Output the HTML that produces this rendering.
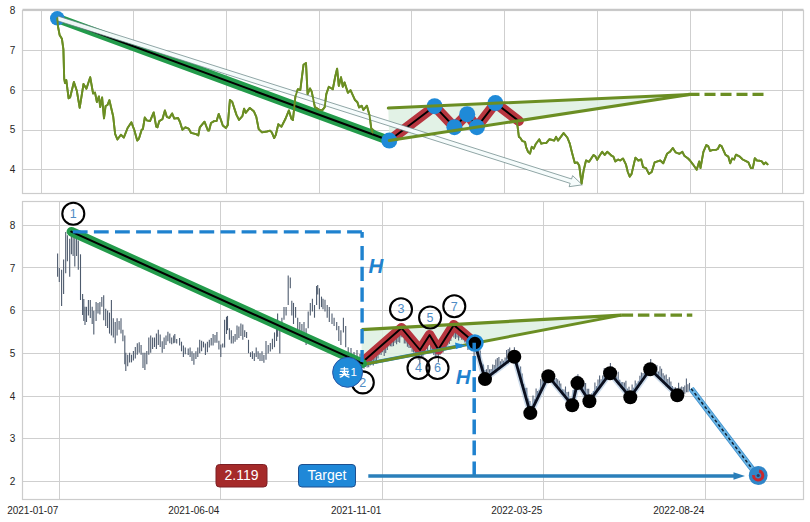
<!DOCTYPE html>
<html><head><meta charset="utf-8"><style>
html,body{margin:0;padding:0;background:#fff;overflow:hidden;}
svg{display:block;font-family:"Liberation Sans",sans-serif;}
</style></head><body>
<svg width="810" height="522" viewBox="0 0 810 522">
<rect width="810" height="522" fill="#ffffff"/>
<line x1="41.50" y1="10.50" x2="41.50" y2="193.50" stroke="#cfcfcf" stroke-width="1" />
<line x1="133.50" y1="10.50" x2="133.50" y2="193.50" stroke="#cfcfcf" stroke-width="1" />
<line x1="226.50" y1="10.50" x2="226.50" y2="193.50" stroke="#cfcfcf" stroke-width="1" />
<line x1="319.50" y1="10.50" x2="319.50" y2="193.50" stroke="#cfcfcf" stroke-width="1" />
<line x1="411.50" y1="10.50" x2="411.50" y2="193.50" stroke="#cfcfcf" stroke-width="1" />
<line x1="504.50" y1="10.50" x2="504.50" y2="193.50" stroke="#cfcfcf" stroke-width="1" />
<line x1="597.50" y1="10.50" x2="597.50" y2="193.50" stroke="#cfcfcf" stroke-width="1" />
<line x1="690.50" y1="10.50" x2="690.50" y2="193.50" stroke="#cfcfcf" stroke-width="1" />
<line x1="782.50" y1="10.50" x2="782.50" y2="193.50" stroke="#cfcfcf" stroke-width="1" />
<line x1="22.50" y1="10.50" x2="803.50" y2="10.50" stroke="#cfcfcf" stroke-width="1" />
<line x1="22.50" y1="50.50" x2="803.50" y2="50.50" stroke="#cfcfcf" stroke-width="1" />
<line x1="22.50" y1="90.50" x2="803.50" y2="90.50" stroke="#cfcfcf" stroke-width="1" />
<line x1="22.50" y1="130.50" x2="803.50" y2="130.50" stroke="#cfcfcf" stroke-width="1" />
<line x1="22.50" y1="169.50" x2="803.50" y2="169.50" stroke="#cfcfcf" stroke-width="1" />
<rect x="22.5" y="10.5" width="781.0" height="183.0" fill="none" stroke="#cccccc" stroke-width="1.2"/>
<line x1="22.50" y1="9.60" x2="803.50" y2="9.60" stroke="#c6c6c6" stroke-width="1.6" />
<text x="15.3" y="173.10" text-anchor="end" font-size="10" fill="#262626">4</text>
<text x="15.3" y="133.30" text-anchor="end" font-size="10" fill="#262626">5</text>
<text x="15.3" y="93.50" text-anchor="end" font-size="10" fill="#262626">6</text>
<text x="15.3" y="53.70" text-anchor="end" font-size="10" fill="#262626">7</text>
<text x="15.3" y="13.90" text-anchor="end" font-size="10" fill="#262626">8</text>
<line x1="59.50" y1="201.50" x2="59.50" y2="499.50" stroke="#cfcfcf" stroke-width="1" />
<line x1="220.50" y1="201.50" x2="220.50" y2="499.50" stroke="#cfcfcf" stroke-width="1" />
<line x1="382.50" y1="201.50" x2="382.50" y2="499.50" stroke="#cfcfcf" stroke-width="1" />
<line x1="543.50" y1="201.50" x2="543.50" y2="499.50" stroke="#cfcfcf" stroke-width="1" />
<line x1="705.50" y1="201.50" x2="705.50" y2="499.50" stroke="#cfcfcf" stroke-width="1" />
<line x1="22.50" y1="225.50" x2="803.50" y2="225.50" stroke="#cfcfcf" stroke-width="1" />
<line x1="22.50" y1="267.50" x2="803.50" y2="267.50" stroke="#cfcfcf" stroke-width="1" />
<line x1="22.50" y1="310.50" x2="803.50" y2="310.50" stroke="#cfcfcf" stroke-width="1" />
<line x1="22.50" y1="353.50" x2="803.50" y2="353.50" stroke="#cfcfcf" stroke-width="1" />
<line x1="22.50" y1="396.50" x2="803.50" y2="396.50" stroke="#cfcfcf" stroke-width="1" />
<line x1="22.50" y1="438.50" x2="803.50" y2="438.50" stroke="#cfcfcf" stroke-width="1" />
<line x1="22.50" y1="481.50" x2="803.50" y2="481.50" stroke="#cfcfcf" stroke-width="1" />
<rect x="22.5" y="201.5" width="781.0" height="298.0" fill="none" stroke="#cccccc" stroke-width="1.2"/>
<text x="15.3" y="485.02" text-anchor="end" font-size="10" fill="#262626">2</text>
<text x="15.3" y="442.35" text-anchor="end" font-size="10" fill="#262626">3</text>
<text x="15.3" y="399.68" text-anchor="end" font-size="10" fill="#262626">4</text>
<text x="15.3" y="357.01" text-anchor="end" font-size="10" fill="#262626">5</text>
<text x="15.3" y="314.34" text-anchor="end" font-size="10" fill="#262626">6</text>
<text x="15.3" y="271.67" text-anchor="end" font-size="10" fill="#262626">7</text>
<text x="15.3" y="229.00" text-anchor="end" font-size="10" fill="#262626">8</text>
<text x="58.30" y="514" text-anchor="end" font-size="10" fill="#262626">2021-01-07</text>
<text x="219.30" y="514" text-anchor="end" font-size="10" fill="#262626">2021-06-04</text>
<text x="381.30" y="514" text-anchor="end" font-size="10" fill="#262626">2021-11-01</text>
<text x="542.30" y="514" text-anchor="end" font-size="10" fill="#262626">2022-03-25</text>
<text x="704.30" y="514" text-anchor="end" font-size="10" fill="#262626">2022-08-24</text>
<polyline points="57.30,18.30 58.00,26.50 59.60,34.90 61.90,38.70 63.40,49.40 64.20,78.60 65.00,83.00 66.30,80.10 68.60,98.30 70.10,97.40 73.90,82.00 76.80,90.70 79.70,107.90 83.50,84.00 86.40,88.70 90.20,77.20 93.10,93.50 95.00,92.60 96.90,102.00 98.90,96.40 100.20,107.00 102.10,97.40 104.00,118.40 105.60,106.00 107.50,105.00 109.40,100.20 113.20,116.50 115.10,133.80 117.40,139.50 120.90,134.70 123.80,137.60 127.60,128.00 131.40,122.30 134.30,130.00 137.20,140.50 139.00,138.50 141.60,129.90 142.90,129.00 144.80,117.50 146.70,120.30 150.00,121.10 153.70,112.40 156.20,126.70 157.50,127.30 159.30,121.10 162.40,119.20 164.90,110.50 166.80,116.80 169.30,118.00 172.10,113.40 174.30,118.60 178.00,118.00 179.90,121.70 182.40,129.80 185.50,127.30 188.60,128.60 191.10,132.90 196.10,134.20 198.30,135.40 199.80,127.30 204.50,121.70 207.90,130.50 209.10,130.50 211.00,123.00 214.10,121.10 216.60,121.10 218.70,113.90 220.90,119.90 222.80,125.50 225.90,128.00 227.80,124.90 229.90,100.00 232.20,101.80 234.00,107.40 236.50,114.90 239.00,119.90 242.40,116.10 244.10,108.70 245.70,112.80 249.80,107.90 253.80,111.20 256.30,116.90 258.70,129.10 262.00,132.40 266.90,131.50 270.10,130.70 271.80,132.40 274.20,138.10 275.80,134.80 278.30,124.20 281.50,126.70 285.60,118.50 288.90,110.40 291.30,118.50 292.90,120.10 295.40,96.50 297.80,89.20 300.30,90.00 303.50,64.80 306.00,63.10 307.60,94.10 310.00,88.40 311.70,91.60 314.90,107.10 319.00,109.60 322.20,110.40 324.70,107.10 326.30,94.10 328.80,86.80 332.80,89.20 335.30,76.20 337.10,68.60 338.80,85.90 341.00,77.20 342.80,86.70 344.50,82.40 347.90,92.80 350.50,90.20 354.80,99.70 357.40,102.20 359.10,107.40 361.70,105.70 363.40,110.00 366.90,105.70 369.50,115.20 371.20,128.10 378.00,134.00 385.00,138.00 389.30,140.60 396.00,134.00 402.00,128.00 410.00,124.00 418.00,118.00 426.00,112.00 434.00,106.00 444.00,117.00 454.00,126.00 460.00,120.00 467.00,114.00 472.00,121.00 476.00,127.00 485.00,115.00 495.00,103.00 505.00,111.00 512.00,117.00 517.00,122.00 518.90,136.90 520.00,137.50 522.50,141.20 525.00,141.80 526.20,147.40 528.10,151.80 530.00,153.70 531.80,146.80 533.70,148.70 535.60,144.30 539.30,139.30 541.20,143.70 543.70,143.10 546.20,143.10 549.30,139.30 552.40,140.00 554.20,140.60 556.10,136.80 558.00,140.60 559.90,138.10 563.60,133.10 567.30,137.50 569.80,143.70 572.30,153.70 574.80,163.00 577.30,162.40 579.20,165.50 581.60,183.50 583.50,171.10 586.00,160.50 589.10,161.80 593.50,154.90 595.30,156.20 597.20,159.90 599.70,155.50 602.20,151.80 604.70,154.90 607.20,151.80 610.00,154.30 611.50,155.70 613.40,156.60 615.30,161.40 618.20,159.50 620.10,160.50 623.00,158.50 625.90,164.30 627.80,172.00 629.70,176.70 631.60,173.90 635.40,157.60 638.30,160.50 641.20,159.50 643.10,167.20 646.00,168.10 648.90,173.90 651.70,172.00 654.60,162.40 657.50,161.40 660.30,160.50 663.20,163.30 667.00,153.80 669.90,151.80 672.80,148.00 675.70,152.40 679.50,153.80 682.40,151.80 684.30,155.70 688.10,158.50 690.00,160.50 692.90,164.30 696.70,169.70 699.20,161.40 700.50,168.10 703.40,151.80 706.30,145.10 708.20,146.10 710.10,150.90 713.00,149.90 715.90,149.90 717.80,149.00 719.70,145.10 721.60,146.10 725.40,154.70 728.30,156.60 730.20,163.30 732.10,158.50 734.10,159.50 736.00,154.70 739.80,156.60 742.70,159.50 746.50,161.40 748.40,162.40 750.90,168.10 752.80,168.10 754.80,158.20 757.00,160.50 759.90,160.80 761.80,161.40 763.80,164.30 765.70,162.40 767.60,164.30" fill="none" stroke="#6b8e23" stroke-width="1.9" stroke-linejoin="round" stroke-linecap="round" />
<polygon points="388.3,108.1 690,94.4 389.3,140.6" fill="#ddf0e2" fill-opacity="0.85"/>
<line x1="57.30" y1="18.30" x2="389.30" y2="140.60" stroke="#239b4b" stroke-width="9.4" stroke-linecap="round"/>
<line x1="57.30" y1="18.30" x2="389.30" y2="140.60" stroke="#000" stroke-width="2.1" stroke-linecap="round"/>
<circle cx="57.3" cy="18.3" r="7.3" fill="#1f8ad8"/>
<polyline points="389.30,140.60 434.60,106.20 454.40,127.20 467.20,114.20 476.90,127.20 495.40,103.10 518.80,121.00" fill="none" stroke="#b7363f" stroke-width="10.2" stroke-linejoin="round" stroke-linecap="round" />
<polyline points="389.30,140.60 434.60,106.20 454.40,127.20 467.20,114.20 476.90,127.20 495.40,103.10 518.80,121.00" fill="none" stroke="#000" stroke-width="1.9" stroke-linejoin="round" stroke-linecap="round" />
<polygon points="56.90,20.59 570.17,183.36 569.11,186.70 582.30,184.80 572.61,175.64 571.56,178.98 58.30,16.21" fill="#f6fcfc" fill-opacity="0.97" stroke="#62807f" stroke-width="0.7" stroke-linejoin="miter"/>
<polyline points="57.30,18.30 58.00,26.50 59.60,34.90 61.90,38.70 63.40,49.40 64.20,78.60 65.00,83.00 66.30,80.10 68.60,98.30 70.10,97.40 73.90,82.00 76.80,90.70 79.70,107.90 83.50,84.00 86.40,88.70 90.20,77.20 93.10,93.50 95.00,92.60 96.90,102.00 98.90,96.40 100.20,107.00 102.10,97.40 104.00,118.40 105.60,106.00 107.50,105.00 109.40,100.20 113.20,116.50 115.10,133.80 117.40,139.50 120.90,134.70 123.80,137.60 127.60,128.00 131.40,122.30 134.30,130.00 137.20,140.50 139.00,138.50 141.60,129.90 142.90,129.00 144.80,117.50 146.70,120.30 150.00,121.10 153.70,112.40 156.20,126.70 157.50,127.30 159.30,121.10 162.40,119.20 164.90,110.50 166.80,116.80 169.30,118.00 172.10,113.40 174.30,118.60 178.00,118.00 179.90,121.70 182.40,129.80 185.50,127.30 188.60,128.60 191.10,132.90 196.10,134.20 198.30,135.40 199.80,127.30 204.50,121.70 207.90,130.50 209.10,130.50 211.00,123.00 214.10,121.10 216.60,121.10 218.70,113.90 220.90,119.90 222.80,125.50 225.90,128.00 227.80,124.90 229.90,100.00 232.20,101.80 234.00,107.40 236.50,114.90 239.00,119.90 242.40,116.10 244.10,108.70 245.70,112.80 249.80,107.90 253.80,111.20 256.30,116.90 258.70,129.10 262.00,132.40 266.90,131.50 270.10,130.70 271.80,132.40 274.20,138.10 275.80,134.80 278.30,124.20 281.50,126.70 285.60,118.50 288.90,110.40 291.30,118.50 292.90,120.10 295.40,96.50 297.80,89.20 300.30,90.00 303.50,64.80 306.00,63.10 307.60,94.10 310.00,88.40 311.70,91.60 314.90,107.10 319.00,109.60 322.20,110.40 324.70,107.10 326.30,94.10 328.80,86.80 332.80,89.20 335.30,76.20 337.10,68.60 338.80,85.90 341.00,77.20 342.80,86.70 344.50,82.40 347.90,92.80 350.50,90.20 354.80,99.70 357.40,102.20 359.10,107.40 361.70,105.70 363.40,110.00 366.90,105.70 369.50,115.20 371.20,128.10 372.60,132.50" fill="none" stroke="#6b8e23" stroke-width="1.9" stroke-linejoin="round" stroke-linecap="round" />
<polyline points="517.00,122.00 518.90,136.90 520.00,137.50 522.50,141.20 525.00,141.80 526.20,147.40 528.10,151.80 530.00,153.70 531.80,146.80 533.70,148.70 535.60,144.30 539.30,139.30 541.20,143.70 543.70,143.10 546.20,143.10 549.30,139.30 552.40,140.00 554.20,140.60 556.10,136.80 558.00,140.60 559.90,138.10 563.60,133.10 567.30,137.50 569.80,143.70 572.30,153.70 574.80,163.00 577.30,162.40 579.20,165.50 581.60,183.50 583.50,171.10 586.00,160.50 589.10,161.80 593.50,154.90 595.30,156.20 597.20,159.90 599.70,155.50 602.20,151.80 604.70,154.90 607.20,151.80 610.00,154.30 611.50,155.70 613.40,156.60 615.30,161.40 618.20,159.50 620.10,160.50 623.00,158.50 625.90,164.30 627.80,172.00 629.70,176.70 631.60,173.90 635.40,157.60 638.30,160.50 641.20,159.50 643.10,167.20 646.00,168.10 648.90,173.90 651.70,172.00 654.60,162.40 657.50,161.40 660.30,160.50 663.20,163.30 667.00,153.80 669.90,151.80 672.80,148.00 675.70,152.40 679.50,153.80 682.40,151.80 684.30,155.70 688.10,158.50 690.00,160.50 692.90,164.30 696.70,169.70 699.20,161.40 700.50,168.10 703.40,151.80 706.30,145.10 708.20,146.10 710.10,150.90 713.00,149.90 715.90,149.90 717.80,149.00 719.70,145.10 721.60,146.10 725.40,154.70 728.30,156.60 730.20,163.30 732.10,158.50 734.10,159.50 736.00,154.70 739.80,156.60 742.70,159.50 746.50,161.40 748.40,162.40 750.90,168.10 752.80,168.10 754.80,158.20 757.00,160.50 759.90,160.80 761.80,161.40 763.80,164.30 765.70,162.40 767.60,164.30" fill="none" stroke="#6b8e23" stroke-width="1.9" stroke-linejoin="round" stroke-linecap="round" />
<circle cx="389.3" cy="140.6" r="8" fill="#1f8ad8"/>
<circle cx="434.6" cy="106.2" r="8" fill="#1f8ad8"/>
<circle cx="454.4" cy="127.2" r="8" fill="#1f8ad8"/>
<circle cx="467.2" cy="114.2" r="8" fill="#1f8ad8"/>
<circle cx="476.9" cy="127.2" r="8" fill="#1f8ad8"/>
<circle cx="495.4" cy="103.1" r="8" fill="#1f8ad8"/>
<polyline points="388.30,108.10 690.00,94.40" fill="none" stroke="#6b8e23" stroke-width="3" stroke-linejoin="round" stroke-linecap="round" stroke-linecap="butt"/>
<polyline points="389.30,140.60 690.00,94.40" fill="none" stroke="#6b8e23" stroke-width="3" stroke-linejoin="round" stroke-linecap="round" stroke-linecap="butt"/>
<line x1="688.50" y1="94.40" x2="763.50" y2="94.40" stroke="#6b8e23" stroke-width="3.2" stroke-dasharray="11 5"/>
<g stroke="#4e5b6e" stroke-width="1.1">
<line x1="57.6" y1="253.4" x2="57.6" y2="276.7"/>
<line x1="59.3" y1="268.0" x2="59.3" y2="282.0"/>
<line x1="61.6" y1="269.8" x2="61.6" y2="306.0"/>
<line x1="63.6" y1="259.5" x2="63.6" y2="294.0"/>
<line x1="65.7" y1="231.9" x2="65.7" y2="273.3"/>
<line x1="67.4" y1="235.3" x2="67.4" y2="261.2"/>
<line x1="69.7" y1="238.8" x2="69.7" y2="276.7"/>
<line x1="71.4" y1="233.6" x2="71.4" y2="254.3"/>
<line x1="73.1" y1="231.9" x2="73.1" y2="256.0"/>
<line x1="74.8" y1="235.3" x2="74.8" y2="266.4"/>
<line x1="76.6" y1="237.0" x2="76.6" y2="256.0"/>
<line x1="78.3" y1="240.5" x2="78.3" y2="269.8"/>
<line x1="80.5" y1="254.3" x2="80.5" y2="300.0"/>
<line x1="82.6" y1="294.0" x2="82.6" y2="315.0"/>
<line x1="83.8" y1="299.0" x2="83.8" y2="321.0"/>
<line x1="85.0" y1="306.8" x2="85.0" y2="325.0"/>
<line x1="86.5" y1="306.8" x2="86.5" y2="322.0"/>
<line x1="88.4" y1="300.0" x2="88.4" y2="315.4"/>
<line x1="90.3" y1="300.0" x2="90.3" y2="318.0"/>
<line x1="92.2" y1="306.8" x2="92.2" y2="324.0"/>
<line x1="93.8" y1="310.7" x2="93.8" y2="334.6"/>
<line x1="96.1" y1="302.0" x2="96.1" y2="321.0"/>
<line x1="98.0" y1="303.0" x2="98.0" y2="313.5"/>
<line x1="99.9" y1="302.0" x2="99.9" y2="314.5"/>
<line x1="101.8" y1="297.0" x2="101.8" y2="306.8"/>
<line x1="103.7" y1="295.3" x2="103.7" y2="320.2"/>
<line x1="105.7" y1="308.7" x2="105.7" y2="326.0"/>
<line x1="107.6" y1="310.6" x2="107.6" y2="328.0"/>
<line x1="109.5" y1="312.6" x2="109.5" y2="333.6"/>
<line x1="111.4" y1="300.0" x2="111.4" y2="335.6"/>
<line x1="113.3" y1="318.3" x2="113.3" y2="337.5"/>
<line x1="115.2" y1="322.0" x2="115.2" y2="343.2"/>
<line x1="117.1" y1="318.3" x2="117.1" y2="335.6"/>
<line x1="119.1" y1="321.0" x2="119.1" y2="329.8"/>
<line x1="121.0" y1="318.3" x2="121.0" y2="333.6"/>
<line x1="122.9" y1="329.8" x2="122.9" y2="341.3"/>
<line x1="124.8" y1="335.6" x2="124.8" y2="364.3"/>
<line x1="125.8" y1="352.8" x2="125.8" y2="371.0"/>
<line x1="127.7" y1="354.7" x2="127.7" y2="366.2"/>
<line x1="129.6" y1="352.8" x2="129.6" y2="362.4"/>
<line x1="131.5" y1="354.7" x2="131.5" y2="362.4"/>
<line x1="133.4" y1="350.9" x2="133.4" y2="360.5"/>
<line x1="135.3" y1="347.0" x2="135.3" y2="358.5"/>
<line x1="137.3" y1="343.2" x2="137.3" y2="354.7"/>
<line x1="139.2" y1="342.3" x2="139.2" y2="352.8"/>
<line x1="141.1" y1="345.1" x2="141.1" y2="354.7"/>
<line x1="143.0" y1="352.8" x2="143.0" y2="368.1"/>
<line x1="144.9" y1="352.8" x2="144.9" y2="370.0"/>
<line x1="146.8" y1="350.9" x2="146.8" y2="364.3"/>
<line x1="148.8" y1="337.5" x2="148.8" y2="354.7"/>
<line x1="150.7" y1="335.6" x2="150.7" y2="352.8"/>
<line x1="152.6" y1="337.5" x2="152.6" y2="349.0"/>
<line x1="154.5" y1="337.5" x2="154.5" y2="347.0"/>
<line x1="156.4" y1="333.6" x2="156.4" y2="349.0"/>
<line x1="158.3" y1="329.8" x2="158.3" y2="345.1"/>
<line x1="160.2" y1="334.6" x2="160.2" y2="347.0"/>
<line x1="162.2" y1="341.3" x2="162.2" y2="352.8"/>
<line x1="164.1" y1="337.5" x2="164.1" y2="349.0"/>
<line x1="166.0" y1="335.6" x2="166.0" y2="345.1"/>
<line x1="167.9" y1="331.7" x2="167.9" y2="341.3"/>
<line x1="169.8" y1="333.6" x2="169.8" y2="343.2"/>
<line x1="171.7" y1="337.5" x2="171.7" y2="344.2"/>
<line x1="173.7" y1="335.6" x2="173.7" y2="343.2"/>
<line x1="174.8" y1="334.0" x2="174.8" y2="342.7"/>
<line x1="176.7" y1="338.9" x2="176.7" y2="343.6"/>
<line x1="179.6" y1="337.9" x2="179.6" y2="345.6"/>
<line x1="181.5" y1="341.7" x2="181.5" y2="351.3"/>
<line x1="183.4" y1="345.6" x2="183.4" y2="357.0"/>
<line x1="185.3" y1="347.5" x2="185.3" y2="354.2"/>
<line x1="188.2" y1="348.4" x2="188.2" y2="355.1"/>
<line x1="190.1" y1="347.5" x2="190.1" y2="357.0"/>
<line x1="192.0" y1="351.3" x2="192.0" y2="360.9"/>
<line x1="193.9" y1="353.2" x2="193.9" y2="364.7"/>
<line x1="195.9" y1="351.3" x2="195.9" y2="359.0"/>
<line x1="197.8" y1="347.5" x2="197.8" y2="357.0"/>
<line x1="199.7" y1="339.8" x2="199.7" y2="353.2"/>
<line x1="201.6" y1="340.8" x2="201.6" y2="351.3"/>
<line x1="203.5" y1="341.7" x2="203.5" y2="347.5"/>
<line x1="205.4" y1="343.6" x2="205.4" y2="355.1"/>
<line x1="207.4" y1="341.7" x2="207.4" y2="352.3"/>
<line x1="209.3" y1="339.8" x2="209.3" y2="347.5"/>
<line x1="211.2" y1="337.9" x2="211.2" y2="345.6"/>
<line x1="213.1" y1="334.0" x2="213.1" y2="345.6"/>
<line x1="215.0" y1="335.0" x2="215.0" y2="342.7"/>
<line x1="216.9" y1="332.1" x2="216.9" y2="342.7"/>
<line x1="218.9" y1="340.8" x2="218.9" y2="349.4"/>
<line x1="220.8" y1="344.6" x2="220.8" y2="357.0"/>
<line x1="222.7" y1="343.6" x2="222.7" y2="347.5"/>
<line x1="224.6" y1="319.7" x2="224.6" y2="347.5"/>
<line x1="226.5" y1="316.8" x2="226.5" y2="334.0"/>
<line x1="227.5" y1="315.9" x2="227.5" y2="330.2"/>
<line x1="229.4" y1="328.3" x2="229.4" y2="339.8"/>
<line x1="231.3" y1="330.2" x2="231.3" y2="343.6"/>
<line x1="233.2" y1="336.0" x2="233.2" y2="343.6"/>
<line x1="235.1" y1="334.0" x2="235.1" y2="341.7"/>
<line x1="237.0" y1="325.4" x2="237.0" y2="339.8"/>
<line x1="238.9" y1="326.4" x2="238.9" y2="337.9"/>
<line x1="240.9" y1="323.5" x2="240.9" y2="336.0"/>
<line x1="242.8" y1="324.5" x2="242.8" y2="339.8"/>
<line x1="244.7" y1="330.2" x2="244.7" y2="336.9"/>
<line x1="246.6" y1="332.1" x2="246.6" y2="337.9"/>
<line x1="248.5" y1="339.8" x2="248.5" y2="353.2"/>
<line x1="250.5" y1="352.3" x2="250.5" y2="357.0"/>
<line x1="252.4" y1="351.3" x2="252.4" y2="359.0"/>
<line x1="254.3" y1="353.2" x2="254.3" y2="360.9"/>
<line x1="256.2" y1="347.5" x2="256.2" y2="357.0"/>
<line x1="258.1" y1="351.3" x2="258.1" y2="359.0"/>
<line x1="260.0" y1="353.2" x2="260.0" y2="360.9"/>
<line x1="262.0" y1="351.3" x2="262.0" y2="360.9"/>
<line x1="263.9" y1="355.1" x2="263.9" y2="362.8"/>
<line x1="266.0" y1="340.9" x2="266.0" y2="359.8"/>
<line x1="268.2" y1="345.0" x2="268.2" y2="353.5"/>
<line x1="270.3" y1="343.0" x2="270.3" y2="351.4"/>
<line x1="272.4" y1="338.8" x2="272.4" y2="349.3"/>
<line x1="274.5" y1="332.4" x2="274.5" y2="347.2"/>
<line x1="276.6" y1="319.8" x2="276.6" y2="340.9"/>
<line x1="277.6" y1="313.5" x2="277.6" y2="336.7"/>
<line x1="279.8" y1="328.2" x2="279.8" y2="353.5"/>
<line x1="281.9" y1="317.7" x2="281.9" y2="330.3"/>
<line x1="284.0" y1="307.1" x2="284.0" y2="319.8"/>
<line x1="286.1" y1="307.1" x2="286.1" y2="315.6"/>
<line x1="288.2" y1="275.5" x2="288.2" y2="305.0"/>
<line x1="290.3" y1="277.6" x2="290.3" y2="288.2"/>
<line x1="291.8" y1="300.8" x2="291.8" y2="315.6"/>
<line x1="293.5" y1="302.9" x2="293.5" y2="324.0"/>
<line x1="295.6" y1="307.1" x2="295.6" y2="317.7"/>
<line x1="297.7" y1="317.7" x2="297.7" y2="330.3"/>
<line x1="299.8" y1="321.9" x2="299.8" y2="334.5"/>
<line x1="301.9" y1="324.0" x2="301.9" y2="336.7"/>
<line x1="304.0" y1="321.9" x2="304.0" y2="332.4"/>
<line x1="306.1" y1="328.2" x2="306.1" y2="345.1"/>
<line x1="308.2" y1="311.4" x2="308.2" y2="328.2"/>
<line x1="310.3" y1="302.9" x2="310.3" y2="315.6"/>
<line x1="312.4" y1="298.7" x2="312.4" y2="311.4"/>
<line x1="314.5" y1="305.0" x2="314.5" y2="317.7"/>
<line x1="316.6" y1="286.1" x2="316.6" y2="305.0"/>
<line x1="317.7" y1="285.0" x2="317.7" y2="294.5"/>
<line x1="319.4" y1="288.2" x2="319.4" y2="309.3"/>
<line x1="321.5" y1="296.6" x2="321.5" y2="307.1"/>
<line x1="323.0" y1="298.7" x2="323.0" y2="309.3"/>
<line x1="325.0" y1="299.8" x2="325.0" y2="311.4"/>
<line x1="327.2" y1="305.0" x2="327.2" y2="317.7"/>
<line x1="329.3" y1="307.1" x2="329.3" y2="321.9"/>
<line x1="332.0" y1="313.5" x2="332.0" y2="324.0"/>
<line x1="334.1" y1="317.7" x2="334.1" y2="326.1"/>
<line x1="336.7" y1="321.9" x2="336.7" y2="330.3"/>
<line x1="338.8" y1="326.1" x2="338.8" y2="340.9"/>
<line x1="340.9" y1="330.3" x2="340.9" y2="345.1"/>
<line x1="343.4" y1="317.7" x2="343.4" y2="332.4"/>
<line x1="345.7" y1="326.1" x2="345.7" y2="347.2"/>
<line x1="348.2" y1="347.2" x2="348.2" y2="353.5"/>
<line x1="351.0" y1="348.0" x2="351.0" y2="358.0"/>
<line x1="354.0" y1="352.0" x2="354.0" y2="362.0"/>
<line x1="357.0" y1="350.0" x2="357.0" y2="360.0"/>
<line x1="360.0" y1="354.0" x2="360.0" y2="364.0"/>
</g>
<polygon points="361.6,329.6 621.6,315.1 361.6,364.8" fill="#ddf0e2" fill-opacity="0.85"/>
<g stroke="#56647a" stroke-width="1.1">
<line x1="364.0" y1="360.7" x2="364.0" y2="368.8"/>
<line x1="365.6" y1="360.4" x2="365.6" y2="366.9"/>
<line x1="367.1" y1="358.7" x2="367.1" y2="367.6"/>
<line x1="368.7" y1="355.9" x2="368.7" y2="367.3"/>
<line x1="370.2" y1="354.5" x2="370.2" y2="365.4"/>
<line x1="371.8" y1="353.2" x2="371.8" y2="361.6"/>
<line x1="373.3" y1="352.9" x2="373.3" y2="365.4"/>
<line x1="374.9" y1="350.7" x2="374.9" y2="359.9"/>
<line x1="376.4" y1="350.8" x2="376.4" y2="363.6"/>
<line x1="378.0" y1="349.3" x2="378.0" y2="358.4"/>
<line x1="379.5" y1="349.2" x2="379.5" y2="354.6"/>
<line x1="381.1" y1="347.4" x2="381.1" y2="354.9"/>
<line x1="382.6" y1="344.0" x2="382.6" y2="352.3"/>
<line x1="384.2" y1="343.1" x2="384.2" y2="355.9"/>
<line x1="385.7" y1="341.4" x2="385.7" y2="352.9"/>
<line x1="387.3" y1="341.4" x2="387.3" y2="350.1"/>
<line x1="388.8" y1="339.7" x2="388.8" y2="346.5"/>
<line x1="390.4" y1="336.9" x2="390.4" y2="346.2"/>
<line x1="391.9" y1="337.4" x2="391.9" y2="346.4"/>
<line x1="393.5" y1="335.0" x2="393.5" y2="346.1"/>
<line x1="395.0" y1="334.0" x2="395.0" y2="342.8"/>
<line x1="396.6" y1="333.7" x2="396.6" y2="344.2"/>
<line x1="398.1" y1="330.7" x2="398.1" y2="342.0"/>
<line x1="399.7" y1="330.2" x2="399.7" y2="342.7"/>
<line x1="401.2" y1="329.5" x2="401.2" y2="337.3"/>
<line x1="402.8" y1="331.4" x2="402.8" y2="337.3"/>
<line x1="404.3" y1="331.6" x2="404.3" y2="343.6"/>
<line x1="405.9" y1="332.6" x2="405.9" y2="343.6"/>
<line x1="407.4" y1="334.1" x2="407.4" y2="346.7"/>
<line x1="409.0" y1="338.2" x2="409.0" y2="347.9"/>
<line x1="410.5" y1="340.3" x2="410.5" y2="347.9"/>
<line x1="412.1" y1="341.6" x2="412.1" y2="351.7"/>
<line x1="413.6" y1="343.1" x2="413.6" y2="352.6"/>
<line x1="415.2" y1="345.8" x2="415.2" y2="357.8"/>
<line x1="416.7" y1="346.5" x2="416.7" y2="357.7"/>
<line x1="418.3" y1="347.1" x2="418.3" y2="359.8"/>
<line x1="419.8" y1="350.7" x2="419.8" y2="363.7"/>
<line x1="421.4" y1="349.4" x2="421.4" y2="356.9"/>
<line x1="422.9" y1="345.6" x2="422.9" y2="357.1"/>
<line x1="424.5" y1="342.1" x2="424.5" y2="353.3"/>
<line x1="426.0" y1="340.1" x2="426.0" y2="348.4"/>
<line x1="427.6" y1="337.4" x2="427.6" y2="350.6"/>
<line x1="429.1" y1="335.2" x2="429.1" y2="344.5"/>
<line x1="430.7" y1="336.9" x2="430.7" y2="349.8"/>
<line x1="432.2" y1="338.6" x2="432.2" y2="349.5"/>
<line x1="433.8" y1="342.6" x2="433.8" y2="355.1"/>
<line x1="435.3" y1="346.0" x2="435.3" y2="357.5"/>
<line x1="436.9" y1="346.9" x2="436.9" y2="357.0"/>
<line x1="438.4" y1="349.4" x2="438.4" y2="362.5"/>
<line x1="440.0" y1="348.8" x2="440.0" y2="354.9"/>
<line x1="441.5" y1="344.0" x2="441.5" y2="353.1"/>
<line x1="443.1" y1="341.7" x2="443.1" y2="352.4"/>
<line x1="444.6" y1="340.3" x2="444.6" y2="348.4"/>
<line x1="446.2" y1="336.1" x2="446.2" y2="347.0"/>
<line x1="447.7" y1="334.7" x2="447.7" y2="345.6"/>
<line x1="449.3" y1="334.1" x2="449.3" y2="344.0"/>
<line x1="450.8" y1="330.3" x2="450.8" y2="341.1"/>
<line x1="452.4" y1="328.3" x2="452.4" y2="334.7"/>
<line x1="453.9" y1="326.8" x2="453.9" y2="337.5"/>
<line x1="455.5" y1="328.0" x2="455.5" y2="339.0"/>
<line x1="457.0" y1="327.9" x2="457.0" y2="337.5"/>
<line x1="458.6" y1="328.3" x2="458.6" y2="340.5"/>
<line x1="460.1" y1="329.5" x2="460.1" y2="337.8"/>
<line x1="461.7" y1="331.3" x2="461.7" y2="339.8"/>
<line x1="463.2" y1="333.0" x2="463.2" y2="340.3"/>
<line x1="464.8" y1="333.3" x2="464.8" y2="342.4"/>
<line x1="466.3" y1="334.9" x2="466.3" y2="345.2"/>
<line x1="467.9" y1="336.0" x2="467.9" y2="350.0"/>
<line x1="469.4" y1="339.1" x2="469.4" y2="346.3"/>
<line x1="471.0" y1="339.3" x2="471.0" y2="349.0"/>
<line x1="472.5" y1="341.0" x2="472.5" y2="348.7"/>
<line x1="474.1" y1="343.7" x2="474.1" y2="356.1"/>
<line x1="475.6" y1="337.0" x2="475.6" y2="346.1"/>
<line x1="477.2" y1="346.0" x2="477.2" y2="351.0"/>
<line x1="478.7" y1="349.3" x2="478.7" y2="356.9"/>
<line x1="480.3" y1="350.5" x2="480.3" y2="362.3"/>
<line x1="481.8" y1="363.3" x2="481.8" y2="369.4"/>
<line x1="483.4" y1="364.4" x2="483.4" y2="373.4"/>
<line x1="484.9" y1="369.9" x2="484.9" y2="378.8"/>
<line x1="486.5" y1="369.2" x2="486.5" y2="379.9"/>
<line x1="488.0" y1="365.0" x2="488.0" y2="378.2"/>
<line x1="489.6" y1="369.3" x2="489.6" y2="376.4"/>
<line x1="491.1" y1="368.9" x2="491.1" y2="376.0"/>
<line x1="492.7" y1="364.5" x2="492.7" y2="374.8"/>
<line x1="494.2" y1="365.1" x2="494.2" y2="372.5"/>
<line x1="495.8" y1="359.6" x2="495.8" y2="372.9"/>
<line x1="497.3" y1="358.0" x2="497.3" y2="371.3"/>
<line x1="498.9" y1="357.1" x2="498.9" y2="370.0"/>
<line x1="500.4" y1="361.3" x2="500.4" y2="368.4"/>
<line x1="502.0" y1="358.9" x2="502.0" y2="366.2"/>
<line x1="503.5" y1="360.7" x2="503.5" y2="365.5"/>
<line x1="505.1" y1="357.4" x2="505.1" y2="365.2"/>
<line x1="506.6" y1="350.0" x2="506.6" y2="363.5"/>
<line x1="508.2" y1="349.0" x2="508.2" y2="363.4"/>
<line x1="509.7" y1="347.6" x2="509.7" y2="360.9"/>
<line x1="511.3" y1="353.0" x2="511.3" y2="359.5"/>
<line x1="512.8" y1="352.1" x2="512.8" y2="358.3"/>
<line x1="514.4" y1="347.3" x2="514.4" y2="358.7"/>
<line x1="515.9" y1="350.8" x2="515.9" y2="363.3"/>
<line x1="517.5" y1="357.9" x2="517.5" y2="369.4"/>
<line x1="519.0" y1="368.5" x2="519.0" y2="374.6"/>
<line x1="520.6" y1="366.5" x2="520.6" y2="380.3"/>
<line x1="522.1" y1="373.4" x2="522.1" y2="385.2"/>
<line x1="523.7" y1="384.1" x2="523.7" y2="391.2"/>
<line x1="525.2" y1="388.1" x2="525.2" y2="396.7"/>
<line x1="526.8" y1="387.8" x2="526.8" y2="401.4"/>
<line x1="528.3" y1="398.4" x2="528.3" y2="407.9"/>
<line x1="529.9" y1="401.0" x2="529.9" y2="411.9"/>
<line x1="531.4" y1="405.7" x2="531.4" y2="411.1"/>
<line x1="533.0" y1="395.5" x2="533.0" y2="409.3"/>
<line x1="534.5" y1="399.2" x2="534.5" y2="406.1"/>
<line x1="536.1" y1="388.5" x2="536.1" y2="402.6"/>
<line x1="537.6" y1="391.0" x2="537.6" y2="399.2"/>
<line x1="539.2" y1="389.8" x2="539.2" y2="395.0"/>
<line x1="540.7" y1="379.0" x2="540.7" y2="393.1"/>
<line x1="542.3" y1="379.9" x2="542.3" y2="390.5"/>
<line x1="543.8" y1="377.5" x2="543.8" y2="387.2"/>
<line x1="545.4" y1="370.8" x2="545.4" y2="382.7"/>
<line x1="546.9" y1="372.8" x2="546.9" y2="379.7"/>
<line x1="548.5" y1="370.2" x2="548.5" y2="377.6"/>
<line x1="550.0" y1="371.9" x2="550.0" y2="379.1"/>
<line x1="551.5" y1="375.0" x2="551.5" y2="382.0"/>
<line x1="553.1" y1="374.8" x2="553.1" y2="382.9"/>
<line x1="554.6" y1="374.7" x2="554.6" y2="385.7"/>
<line x1="556.2" y1="378.0" x2="556.2" y2="387.6"/>
<line x1="557.7" y1="379.2" x2="557.7" y2="388.7"/>
<line x1="559.3" y1="380.8" x2="559.3" y2="389.6"/>
<line x1="560.8" y1="383.5" x2="560.8" y2="391.8"/>
<line x1="562.4" y1="389.3" x2="562.4" y2="394.9"/>
<line x1="563.9" y1="389.6" x2="563.9" y2="396.1"/>
<line x1="565.5" y1="386.5" x2="565.5" y2="398.2"/>
<line x1="567.0" y1="392.0" x2="567.0" y2="400.0"/>
<line x1="568.6" y1="391.8" x2="568.6" y2="402.4"/>
<line x1="570.1" y1="397.8" x2="570.1" y2="403.8"/>
<line x1="571.7" y1="398.4" x2="571.7" y2="405.1"/>
<line x1="573.2" y1="389.9" x2="573.2" y2="401.8"/>
<line x1="574.8" y1="385.3" x2="574.8" y2="395.9"/>
<line x1="576.3" y1="375.7" x2="576.3" y2="388.8"/>
<line x1="577.9" y1="374.2" x2="577.9" y2="384.7"/>
<line x1="579.4" y1="377.5" x2="579.4" y2="387.5"/>
<line x1="581.0" y1="380.4" x2="581.0" y2="389.5"/>
<line x1="582.5" y1="382.5" x2="582.5" y2="392.7"/>
<line x1="584.1" y1="382.8" x2="584.1" y2="394.9"/>
<line x1="585.6" y1="383.0" x2="585.6" y2="396.0"/>
<line x1="587.2" y1="388.8" x2="587.2" y2="399.7"/>
<line x1="588.7" y1="388.7" x2="588.7" y2="400.5"/>
<line x1="590.3" y1="394.9" x2="590.3" y2="400.9"/>
<line x1="591.8" y1="393.2" x2="591.8" y2="398.4"/>
<line x1="593.4" y1="391.1" x2="593.4" y2="397.1"/>
<line x1="594.9" y1="382.6" x2="594.9" y2="395.5"/>
<line x1="596.5" y1="386.2" x2="596.5" y2="393.0"/>
<line x1="598.0" y1="379.6" x2="598.0" y2="389.8"/>
<line x1="599.6" y1="375.5" x2="599.6" y2="389.3"/>
<line x1="601.1" y1="379.3" x2="601.1" y2="387.2"/>
<line x1="602.7" y1="375.6" x2="602.7" y2="384.2"/>
<line x1="604.2" y1="368.2" x2="604.2" y2="382.8"/>
<line x1="605.8" y1="373.6" x2="605.8" y2="379.9"/>
<line x1="607.3" y1="368.3" x2="607.3" y2="377.6"/>
<line x1="608.9" y1="369.1" x2="608.9" y2="375.5"/>
<line x1="610.4" y1="363.1" x2="610.4" y2="373.7"/>
<line x1="612.0" y1="366.5" x2="612.0" y2="376.3"/>
<line x1="613.5" y1="373.2" x2="613.5" y2="378.0"/>
<line x1="615.1" y1="369.6" x2="615.1" y2="380.2"/>
<line x1="616.6" y1="376.4" x2="616.6" y2="383.0"/>
<line x1="618.2" y1="371.8" x2="618.2" y2="384.8"/>
<line x1="619.7" y1="379.8" x2="619.7" y2="385.2"/>
<line x1="621.3" y1="382.2" x2="621.3" y2="388.1"/>
<line x1="622.8" y1="382.0" x2="622.8" y2="388.7"/>
<line x1="624.4" y1="382.5" x2="624.4" y2="392.1"/>
<line x1="625.9" y1="380.7" x2="625.9" y2="392.6"/>
<line x1="627.5" y1="388.6" x2="627.5" y2="395.8"/>
<line x1="629.0" y1="386.7" x2="629.0" y2="397.2"/>
<line x1="630.6" y1="392.1" x2="630.6" y2="397.0"/>
<line x1="632.1" y1="384.5" x2="632.1" y2="395.5"/>
<line x1="633.7" y1="387.8" x2="633.7" y2="394.4"/>
<line x1="635.2" y1="380.6" x2="635.2" y2="391.9"/>
<line x1="636.8" y1="383.4" x2="636.8" y2="389.8"/>
<line x1="638.3" y1="381.3" x2="638.3" y2="387.7"/>
<line x1="639.9" y1="375.7" x2="639.9" y2="384.4"/>
<line x1="641.4" y1="372.6" x2="641.4" y2="383.4"/>
<line x1="643.0" y1="373.0" x2="643.0" y2="379.6"/>
<line x1="644.5" y1="368.4" x2="644.5" y2="377.7"/>
<line x1="646.1" y1="370.0" x2="646.1" y2="375.3"/>
<line x1="647.6" y1="368.3" x2="647.6" y2="373.2"/>
<line x1="649.2" y1="363.8" x2="649.2" y2="371.2"/>
<line x1="650.7" y1="358.9" x2="650.7" y2="370.3"/>
<line x1="652.3" y1="362.7" x2="652.3" y2="371.6"/>
<line x1="653.8" y1="365.6" x2="653.8" y2="372.8"/>
<line x1="655.4" y1="368.0" x2="655.4" y2="374.2"/>
<line x1="656.9" y1="365.1" x2="656.9" y2="376.8"/>
<line x1="658.5" y1="371.5" x2="658.5" y2="378.1"/>
<line x1="660.0" y1="366.3" x2="660.0" y2="378.9"/>
<line x1="661.6" y1="368.8" x2="661.6" y2="381.0"/>
<line x1="663.1" y1="373.2" x2="663.1" y2="383.3"/>
<line x1="664.7" y1="375.6" x2="664.7" y2="384.2"/>
<line x1="666.2" y1="374.5" x2="666.2" y2="386.6"/>
<line x1="667.8" y1="379.1" x2="667.8" y2="387.8"/>
<line x1="669.3" y1="377.3" x2="669.3" y2="388.9"/>
<line x1="670.9" y1="381.5" x2="670.9" y2="389.8"/>
<line x1="672.4" y1="386.1" x2="672.4" y2="390.9"/>
<line x1="674.0" y1="387.5" x2="674.0" y2="393.6"/>
<line x1="675.5" y1="387.3" x2="675.5" y2="393.9"/>
<line x1="677.1" y1="390.3" x2="677.1" y2="396.8"/>
<line x1="678.6" y1="382.8" x2="678.6" y2="396.0"/>
<line x1="680.2" y1="387.4" x2="680.2" y2="394.5"/>
<line x1="681.7" y1="386.6" x2="681.7" y2="394.2"/>
<line x1="683.3" y1="387.1" x2="683.3" y2="393.4"/>
<line x1="684.8" y1="385.5" x2="684.8" y2="393.8"/>
<line x1="686.4" y1="378.4" x2="686.4" y2="392.2"/>
<line x1="687.9" y1="384.2" x2="687.9" y2="392.3"/>
<line x1="689.5" y1="382.9" x2="689.5" y2="390.4"/>
</g>
<polyline points="362.60,362.00 401.50,328.00 420.00,350.00 429.60,335.00 438.30,349.50 453.80,325.00 475.00,343.00" fill="none" stroke="#b7363f" stroke-width="10" stroke-linejoin="round" stroke-linecap="round" />
<polyline points="362.60,362.00 401.50,328.00 420.00,350.00 429.60,335.00 438.30,349.50 453.80,325.00 475.00,343.00" fill="none" stroke="#000" stroke-width="1.9" stroke-linejoin="round" stroke-linecap="round" />
<line x1="361.60" y1="329.60" x2="621.60" y2="315.10" stroke="#6b8e23" stroke-width="3.2" />
<line x1="362.50" y1="364.60" x2="462.00" y2="345.60" stroke="#1f82cf" stroke-width="3.6" />
<line x1="361.60" y1="364.80" x2="621.60" y2="315.10" stroke="#6b8e23" stroke-width="3.0" />
<line x1="621.60" y1="315.10" x2="692.30" y2="315.10" stroke="#6b8e23" stroke-width="3.2" stroke-dasharray="11.5 4.8"/>
<line x1="71.30" y1="231.60" x2="362.20" y2="363.40" stroke="#239b4b" stroke-width="9.4" stroke-linecap="round"/>
<line x1="71.30" y1="231.60" x2="362.20" y2="363.40" stroke="#000" stroke-width="2.1" stroke-linecap="round"/>
<polyline points="72.8,231.9 362.1,231.9" fill="none" stroke="#1f82cf" stroke-width="3.4" stroke-dasharray="14.8 6.3"/>
<polyline points="362.1,231.9 362.1,362" fill="none" stroke="#1f82cf" stroke-width="3.4" stroke-dasharray="5.8 8.2 14.3 6.5 14.3 6.5 14.3 6.5 14.3 6.5 14.3 6.5 14.3 6.5"/>
<text x="368.6" y="272.7" font-size="20.5" font-weight="bold" font-style="italic" fill="#1f82cf">H</text>
<text x="455.8" y="383.6" font-size="20.5" font-weight="bold" font-style="italic" fill="#1f82cf">H</text>
<circle cx="73.3" cy="213.8" r="11" fill="none" stroke="#000" stroke-width="2.1"/>
<text x="73.3" y="218.0" text-anchor="middle" font-size="12.5" fill="#4f8cc4">1</text>
<circle cx="362.8" cy="382.4" r="11" fill="none" stroke="#000" stroke-width="2.1"/>
<text x="362.8" y="386.6" text-anchor="middle" font-size="12.5" fill="#4f8cc4">2</text>
<circle cx="401" cy="309.2" r="11" fill="none" stroke="#000" stroke-width="2.1"/>
<text x="401" y="313.4" text-anchor="middle" font-size="12.5" fill="#4f8cc4">3</text>
<circle cx="418.5" cy="368" r="11" fill="none" stroke="#000" stroke-width="2.1"/>
<text x="418.5" y="372.2" text-anchor="middle" font-size="12.5" fill="#4f8cc4">4</text>
<circle cx="430.1" cy="317.5" r="11" fill="none" stroke="#000" stroke-width="2.1"/>
<text x="430.1" y="321.7" text-anchor="middle" font-size="12.5" fill="#4f8cc4">5</text>
<circle cx="437.5" cy="368" r="11" fill="none" stroke="#000" stroke-width="2.1"/>
<text x="437.5" y="372.2" text-anchor="middle" font-size="12.5" fill="#4f8cc4">6</text>
<circle cx="454.3" cy="306.3" r="11" fill="none" stroke="#000" stroke-width="2.1"/>
<text x="454.3" y="310.5" text-anchor="middle" font-size="12.5" fill="#4f8cc4">7</text>
<circle cx="347.6" cy="372.3" r="15" fill="#1f8ad8" stroke="#2a55a5" stroke-width="1"/>
<g transform="translate(339.4,367.3)" fill="none" stroke="#ffffff" stroke-width="1.25" stroke-linecap="round"><path d="M1.5,1.6 H8.5 M5,0 V3.2 M1,4.2 H8.8 L7.8,6 M3.3,5 L4.2,6 M5.4,5.6 L6.2,6.6 M0.4,7.3 H9.6 M5.2,4.8 Q4.8,8.6 0.8,9.8 M5.6,7.8 Q7,9.2 9.6,9.8"/></g>
<text x="353.6" y="376" text-anchor="middle" font-size="11.5" fill="#ffffff">1</text>
<polyline points="474.70,343.00 485.00,379.10 514.30,356.70 530.30,413.10 548.30,376.20 572.20,405.20 577.50,383.10 589.40,401.20 610.10,373.20 630.30,397.30 650.20,369.20 677.30,395.30" fill="none" stroke="#8fb0d0" stroke-width="6" stroke-linejoin="round" stroke-linecap="round" stroke-opacity="0.45"/>
<polyline points="474.70,343.00 485.00,379.10 514.30,356.70 530.30,413.10 548.30,376.20 572.20,405.20 577.50,383.10 589.40,401.20 610.10,373.20 630.30,397.30 650.20,369.20 677.30,395.30" fill="none" stroke="#0a0f1e" stroke-width="2.8" stroke-linejoin="round" stroke-linecap="round" />
<circle cx="485" cy="379.1" r="7" fill="#000"/>
<circle cx="514.3" cy="356.7" r="7" fill="#000"/>
<circle cx="530.3" cy="413.1" r="7" fill="#000"/>
<circle cx="548.3" cy="376.2" r="7" fill="#000"/>
<circle cx="572.2" cy="405.2" r="7" fill="#000"/>
<circle cx="577.5" cy="383.1" r="7" fill="#000"/>
<circle cx="589.4" cy="401.2" r="7" fill="#000"/>
<circle cx="610.1" cy="373.2" r="7" fill="#000"/>
<circle cx="630.3" cy="397.3" r="7" fill="#000"/>
<circle cx="650.2" cy="369.2" r="7" fill="#000"/>
<circle cx="677.3" cy="395.3" r="7" fill="#000"/>
<circle cx="474.9" cy="343" r="7.5" fill="#000" stroke="#1f8ad8" stroke-width="2.6"/>
<line x1="474.2" y1="342.7" x2="474.2" y2="476" stroke="#1f82cf" stroke-width="3.5" stroke-dasharray="14.8 6.3" stroke-dashoffset="7.7"/>
<polygon points="455,342.5 466,345.5 456,349" fill="#1f8ad8"/>
<line x1="691.20" y1="388.70" x2="757.20" y2="475.50" stroke="#3d8fcc" stroke-width="6" stroke-linecap="butt"/>
<line x1="691.20" y1="388.70" x2="757.20" y2="475.50" stroke="#6ab4e4" stroke-width="4.4" stroke-linecap="butt"/>
<line x1="691.20" y1="388.70" x2="757.20" y2="475.50" stroke="#0c1e30" stroke-width="1.5" stroke-dasharray="3 2.6"/>
<line x1="368.30" y1="476.00" x2="736.00" y2="476.00" stroke="#2a7fba" stroke-width="3.5" />
<polygon points="733.5,472.3 745,476 733.5,479.7" fill="#2a7fba"/>
<circle cx="758.2" cy="475.5" r="9.4" fill="#2f86c8"/>
<path d="M759.00,470.97 A4.6,4.6 0 1 1 753.62,475.10" fill="none" stroke="#c8282e" stroke-width="3"/>
<circle cx="758.2" cy="475.5" r="1.6" fill="#233a66"/>
<rect x="216" y="464.5" width="51" height="22.5" rx="3.5" fill="#a52a2a" stroke="#7d1e24" stroke-width="1"/>
<text x="241.5" y="479.6" text-anchor="middle" font-size="14" fill="#ffffff">2.119</text>
<rect x="298.5" y="464.5" width="57" height="22.5" rx="3.5" fill="#1f88d8" stroke="#1d4f8f" stroke-width="1"/>
<text x="327" y="479.6" text-anchor="middle" font-size="14" fill="#ffffff">Target</text>
</svg>
</body></html>
